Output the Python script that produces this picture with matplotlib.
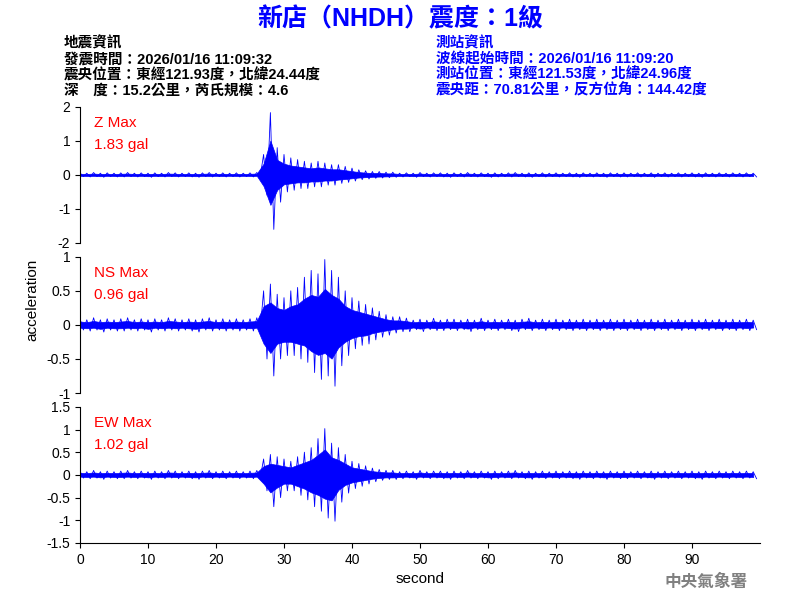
import matplotlib
matplotlib.use('Agg')
import matplotlib.pyplot as plt
import numpy as np

plt.rcParams['font.family'] = ['Liberation Sans', 'Noto Sans CJK TC']

# per-second envelope (max / min), 0..99 s
noise_a = [0.06, 0.05, 0.07, 0.05, 0.06, 0.05, 0.06, 0.07, 0.05, 0.06,
           0.05, 0.06, 0.05, 0.07, 0.06, 0.05, 0.06, 0.05, 0.06, 0.07,
           0.05, 0.06, 0.05, 0.06, 0.05, 0.06, 0.07]
noise_b = [0.05, 0.06, 0.05, 0.07, 0.05, 0.06, 0.06, 0.05, 0.06, 0.05,
           0.07, 0.05, 0.06, 0.05, 0.06, 0.05, 0.06, 0.07, 0.05, 0.06,
           0.05, 0.06, 0.05, 0.06, 0.05, 0.06, 0.05, 0.06, 0.05, 0.06,
           0.05, 0.06, 0.05, 0.06, 0.05, 0.06, 0.05, 0.06, 0.05, 0.06,
           0.05, 0.06, 0.05, 0.06, 0.05, 0.06, 0.05, 0.06, 0.05, 0.06,
           0.05, 0.06, 0.05]

z_max = noise_a + [0.6, 1.83, 0.8, 0.6, 0.5, 0.45, 0.4, 0.35, 0.4, 0.35,
                   0.3, 0.3, 0.25, 0.2, 0.15, 0.12, 0.1, 0.1, 0.08, 0.08] + noise_b
z_min = [-v for v in noise_b[:27]] + [-0.6, -1.6, -0.8, -0.5, -0.45, -0.4, -0.4, -0.35, -0.35, -0.3,
                                      -0.3, -0.25, -0.22, -0.18, -0.14, -0.12, -0.1, -0.09, -0.08, -0.07] + [-v for v in noise_a + noise_b[:26]]

ns_max = [v * 1.5 for v in noise_a] + [0.5, 0.6, 0.45, 0.4, 0.5, 0.55, 0.7, 0.8, 0.75, 0.96,
                                       0.8, 0.7, 0.5, 0.4, 0.35, 0.3, 0.25, 0.2, 0.15, 0.12,
                                       0.12, 0.1] + [v * 1.4 for v in noise_b[:51]]
ns_min = [-v * 1.5 for v in noise_b[:27]] + [-0.5, -0.75, -0.5, -0.45, -0.45, -0.5, -0.55, -0.7, -0.8, -0.75,
                                             -0.9, -0.6, -0.45, -0.35, -0.3, -0.28, -0.22, -0.18, -0.15, -0.12,
                                             -0.1, -0.1] + [-v * 1.4 for v in noise_b[2:53]]

ew_max = [v * 1.4 for v in noise_a] + [0.35, 0.45, 0.4, 0.35, 0.3, 0.4, 0.5, 0.6, 0.8, 1.02,
                                       0.7, 0.6, 0.45, 0.3, 0.25, 0.2, 0.15, 0.12, 0.1, 0.1] + [v * 1.4 for v in noise_b]
ew_min = [-v * 1.4 for v in noise_b[:27]] + [-0.35, -0.7, -0.5, -0.35, -0.35, -0.45, -0.55, -0.7, -0.8, -0.95,
                                             -1.02, -0.6, -0.4, -0.3, -0.25, -0.2, -0.15, -0.12, -0.1, -0.1] + [-v * 1.4 for v in noise_a + noise_b[:26]]

channels = [
    ('Z Max', '1.83 gal', z_max, z_min, (-2, 2), [-2, -1, 0, 1, 2], ['-2', '-1', '0', '1', '2']),
    ('NS Max', '0.96 gal', ns_max, ns_min, (-1, 1), [-1, -0.5, 0, 0.5, 1], ['-1', '-0.5', '0', '0.5', '1']),
    ('EW Max', '1.02 gal', ew_max, ew_min, (-1.5, 1.5), [-1.5, -1, -0.5, 0, 0.5, 1, 1.5],
     ['-1.5', '-1', '-0.5', '0', '0.5', '1', '1.5']),
]
bottoms = [0.595, 0.345, 0.095]

fig = plt.figure(figsize=(8, 6), dpi=100)
for (name, val, hi, lo, ylim, ticks, labels), b in zip(channels, bottoms):
    ax = fig.add_axes([0.1, b, 0.85, 0.227])
    t = np.arange(len(hi))
    hi = np.array(hi)
    lo = np.array(lo)
    xs = np.ravel(np.column_stack([t, t + 0.5]))
    ys = np.ravel(np.column_stack([hi, lo]))
    # dense core of the trace, with the per-second peaks drawn on top
    ax.fill_between(t, lo * 0.55, hi * 0.55, color='blue', lw=0.5)
    ax.plot(xs, ys, color='blue', lw=0.6)
    ax.set_xlim(0, 100)
    ax.set_ylim(*ylim)
    ax.set_yticks(ticks)
    ax.set_yticklabels(labels, fontsize=10)
    for s in ['top', 'right']:
        ax.spines[s].set_visible(False)
    ax.text(0.02, 0.93, name, transform=ax.transAxes, color='red', fontsize=11, va='top')
    ax.text(0.02, 0.77, val, transform=ax.transAxes, color='red', fontsize=11, va='top')
    if b != bottoms[-1]:
        ax.spines['bottom'].set_visible(False)
        ax.set_xticks([])
    else:
        ax.set_xticks(range(0, 100, 10))
        ax.tick_params(labelsize=10)
        ax.set_xlabel('second', fontsize=11)

fig.text(0.04, 0.5, 'acceleration', rotation=90, va='center', ha='center', fontsize=11)
fig.text(0.5, 0.968, '新店（NHDH）震度：1級', color='blue', fontsize=18, fontweight='bold', ha='center', va='center')
left_info = ['地震資訊', '發震時間：2026/01/16 11:09:32', '震央位置：東經121.93度，北緯24.44度', '深　度：15.2公里，芮氏規模：4.6']
right_info = ['測站資訊', '波線起始時間：2026/01/16 11:09:20', '測站位置：東經121.53度，北緯24.96度', '震央距：70.81公里，反方位角：144.42度']
for i, (l, r) in enumerate(zip(left_info, right_info)):
    y = 0.927 - i * 0.026
    fig.text(0.08, y, l, fontsize=10.5, va='center', fontweight='bold')
    fig.text(0.545, y, r, fontsize=10.5, va='center', color='blue', fontweight='bold')
fig.text(0.935, 0.03, '中央氣象署', color='gray', fontsize=12, fontweight='bold', ha='right', va='center')

fig.savefig('out.png', dpi=100)
